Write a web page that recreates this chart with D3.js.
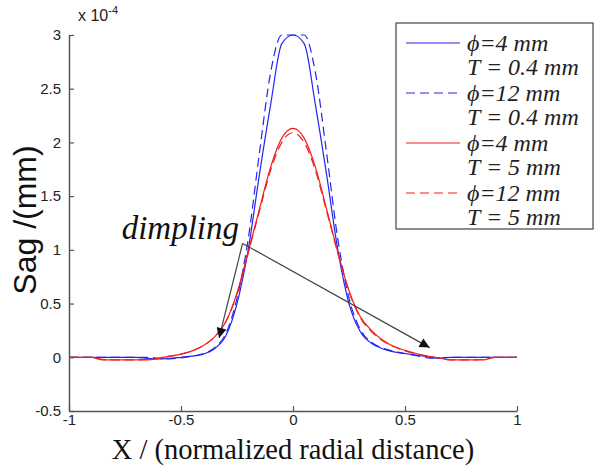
<!DOCTYPE html>
<html>
<head>
<meta charset="utf-8">
<script src="https://cdn.jsdelivr.net/npm/d3@7"></script>
<style>
  body { margin: 0; background: #fff; }
  svg { display: block; }
</style>
</head>
<body>
<div id="grafico"></div>
<script>
// x positions (normalized radial distance)
var xs = [-1, -0.95, -0.9, -0.85, -0.8, -0.75, -0.7, -0.65, -0.6, -0.55, -0.5, -0.45, -0.4, -0.35, -0.3, -0.25, -0.2, -0.15, -0.1, -0.05,
          0, 0.05, 0.1, 0.15, 0.2, 0.25, 0.3, 0.35, 0.4, 0.45, 0.5, 0.55, 0.6, 0.65, 0.7, 0.75, 0.8, 0.85, 0.9, 0.95, 1];

// sag values, units of 1e-4 mm (clipped at 3 by the axis)
var blue4 = [0, 0, 0, 0, 0, 0, 0, -0.01, -0.015, -0.01, 0, 0.01, 0.03, 0.08, 0.2, 0.5, 1.0, 1.7, 2.35, 2.92,
             3.0, 2.92, 2.35, 1.7, 1.0, 0.5, 0.24, 0.13, 0.08, 0.05, 0.035, 0.02, 0.005, -0.01, 0, 0, 0, 0, 0, 0, 0];
var blue12 = [0, 0, 0, 0, 0, 0, 0, 0, -0.01, -0.015, -0.005, 0.01, 0.035, 0.09, 0.22, 0.55, 1.1, 1.9, 2.65, 3.0,
              3.0, 3.0, 2.65, 1.9, 1.1, 0.55, 0.26, 0.14, 0.085, 0.055, 0.035, 0.015, -0.005, -0.01, 0, 0, 0, 0, 0, 0, 0];
var red4 = [0, 0, 0, -0.025, -0.025, -0.025, -0.025, -0.025, -0.01, 0.01, 0.03, 0.06, 0.11, 0.19, 0.33, 0.6, 0.98, 1.38, 1.77, 2.04,
            2.13, 2.04, 1.77, 1.38, 0.98, 0.62, 0.38, 0.25, 0.16, 0.1, 0.065, 0.035, 0.012, -0.005, -0.025, -0.025, -0.025, -0.025, 0, 0, 0];
var red12 = [0, 0, 0, -0.02, -0.025, -0.025, -0.025, -0.02, -0.01, 0.01, 0.03, 0.06, 0.11, 0.19, 0.33, 0.59, 0.97, 1.36, 1.74, 2.0,
             2.09, 2.0, 1.74, 1.36, 0.97, 0.61, 0.37, 0.24, 0.155, 0.1, 0.06, 0.03, 0.01, -0.005, -0.025, -0.025, -0.025, -0.02, 0, 0, 0];

var xTicks = [-1, -0.5, 0, 0.5, 1];
var yTicks = [-0.5, 0, 0.5, 1, 1.5, 2, 2.5, 3];

var seriesNames = [["\u03D5=4 mm", "T = 0.4 mm"], ["\u03D5=12 mm", "T = 0.4 mm"], ["\u03D5=4 mm", "T = 5 mm"], ["\u03D5=12 mm", "T = 5 mm"]];
var seriesValues = [blue4, blue12, red4, red12];
var seriesColors = ["#2424f2", "#2424f2", "#f21e1e", "#f21e1e"];
var seriesDash = [null, "9,5", null, "9,5"];

var width = 594, height = 469;
var margin = {top: 35, right: 77, bottom: 58, left: 69};
var plotWidth = width - margin.left - margin.right;
var plotHeight = height - margin.top - margin.bottom;

var svg = d3.select("#grafico").append("svg")
    .attr("width", width).attr("height", height);

var xScale = d3.scaleLinear().domain([-1, 1]).range([0, plotWidth]);
var yScale = d3.scaleLinear().domain([-0.5, 3]).range([plotHeight, 0]);

var plotArea = svg.append("g")
    .attr("transform", "translate(" + margin.left + "," + margin.top + ")");

// curves
var line = d3.line()
    .x(function(d){ return xScale(d[0]); })
    .y(function(d){ return yScale(d[1]); })
    .curve(d3.curveMonotoneX);

seriesValues.forEach(function(vals, i){
    plotArea.append("path")
        .datum(xs.map(function(x, j){ return [x, vals[j]]; }))
        .attr("fill", "none")
        .attr("stroke", seriesColors[i])
        .attr("stroke-width", 1.2)
        .attr("stroke-dasharray", seriesDash[i])
        .attr("d", line);
});

// axes (ticks point inward)
var axisColor = "#555";
var bottomAxis = plotArea.append("g")
    .attr("transform", "translate(0," + plotHeight + ")")
    .call(d3.axisBottom(xScale).tickValues(xTicks).tickSizeInner(-5).tickSizeOuter(0).tickPadding(6)
        .tickFormat(function(d){ return d; }));
var leftAxis = plotArea.append("g")
    .call(d3.axisLeft(yScale).tickValues(yTicks).tickSizeInner(-5).tickSizeOuter(0).tickPadding(8)
        .tickFormat(function(d){ return d; }));

[bottomAxis, leftAxis].forEach(function(a){
    a.select(".domain").attr("stroke", axisColor).attr("stroke-width", 1.5);
    a.selectAll(".tick line").attr("stroke", axisColor).attr("stroke-width", 1.2);
    a.selectAll(".tick text").attr("fill", "#222")
        .style("font-family", "Liberation Sans, Arial, sans-serif").style("font-size", "15px");
});
bottomAxis.selectAll(".tick text").attr("dy", "0.55em");

// exponent label
var expo = svg.append("text")
    .attr("x", margin.left + 9).attr("y", 21)
    .attr("fill", "#222")
    .style("font-family", "Liberation Sans, Arial, sans-serif").style("font-size", "16px");
expo.append("tspan").text("x 10");
expo.append("tspan").attr("dy", -7).style("font-size", "11px").text("-4");

// axis titles
svg.append("text")
    .attr("transform", "translate(36," + (margin.top + plotHeight / 2 - 3) + ") rotate(-90)")
    .attr("text-anchor", "middle")
    .attr("fill", "#111")
    .style("font-family", "Liberation Sans, Arial, sans-serif").style("font-size", "32px")
    .text("Sag /(mm)");

svg.append("text")
    .attr("x", margin.left + plotWidth / 2)
    .attr("y", 459)
    .attr("text-anchor", "middle")
    .attr("fill", "#111")
    .style("font-family", "Liberation Serif, Times New Roman, serif").style("font-size", "28.5px")
    .text("X / (normalized radial distance)");

// dimpling annotation
var defs = svg.append("defs");
defs.append("marker")
    .attr("id", "arrow").attr("viewBox", "0 0 10 10")
    .attr("refX", 10).attr("refY", 5)
    .attr("markerWidth", 14).attr("markerHeight", 10)
    .attr("orient", "auto").attr("markerUnits", "userSpaceOnUse")
    .append("path").attr("d", "M0,0L10,5L0,10z").attr("fill", "#111");

var annStart = [-0.225, 1.06];
var annEnds = [[-0.33, 0.18], [0.61, 0.09]];
annEnds.forEach(function(e){
    plotArea.append("line")
        .attr("x1", xScale(annStart[0])).attr("y1", yScale(annStart[1]))
        .attr("x2", xScale(e[0])).attr("y2", yScale(e[1]))
        .attr("stroke", "#444").attr("stroke-width", 1.2)
        .attr("marker-end", "url(#arrow)");
});
plotArea.append("text")
    .attr("x", xScale(-0.765)).attr("y", yScale(1.1))
    .attr("fill", "#111")
    .style("font-family", "Liberation Serif, Times New Roman, serif").style("font-style", "italic").style("font-size", "33px")
    .text("dimpling");

// legend
var legend = svg.append("g").attr("transform", "translate(396,23)");
legend.append("rect")
    .attr("width", 197).attr("height", 206)
    .attr("fill", "#fff").attr("stroke", "#444").attr("stroke-width", 1.2);
seriesNames.forEach(function(names, i){
    var g = legend.append("g").attr("transform", "translate(0," + (20 + i * 50) + ")");
    g.append("line")
        .attr("x1", 10).attr("x2", 64).attr("y1", 0).attr("y2", 0)
        .attr("stroke", seriesColors[i]).attr("stroke-width", 1.2)
        .attr("stroke-dasharray", seriesDash[i]);
    names.forEach(function(t, k){
        g.append("text")
            .attr("x", 71).attr("y", 8 + k * 24)
            .attr("fill", "#222")
            .style("font-family", "Liberation Serif, Times New Roman, serif").style("font-style", "italic").style("font-size", "24px")
            .text(t);
    });
});
</script>
</body>
</html>
